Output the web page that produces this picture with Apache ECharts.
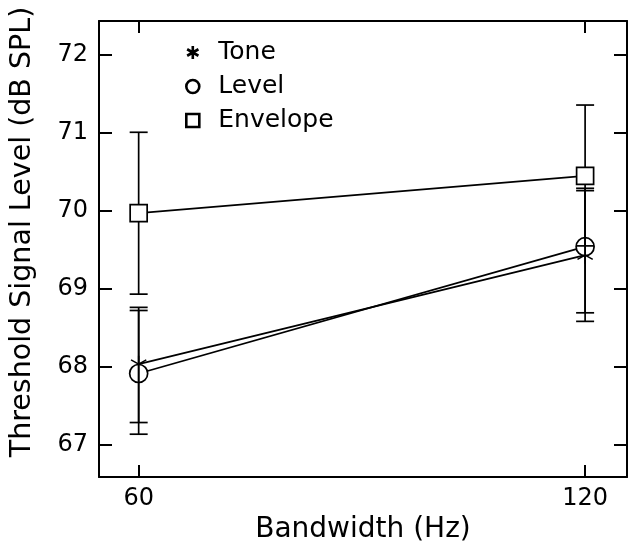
<!DOCTYPE html>
<html>
<head>
<meta charset="utf-8">
<script src="https://cdn.jsdelivr.net/npm/echarts@6/dist/echarts.min.js"></script>
<style>
html,body{margin:0;padding:0;background:#fff;}
#chart{width:628px;height:550px;}
</style>
</head>
<body>
<div id="chart"></div>
<script>
// ---- data ----
const bandwidths = [60, 120];
const toneMean  = [68.03, 69.43];
const toneLow   = [67.28, 68.69];
const toneHigh  = [68.76, 70.26];
const levelMean = [67.91, 69.54];
const levelLow  = [67.13, 68.58];
const levelHigh = [68.72, 70.29];
const envMean   = [69.97, 70.45];
const envLow    = [68.93, 69.55];
const envHigh   = [71.01, 71.36];
const xTicks = [60, 120];
const yTicks = [67, 68, 69, 70, 71, 72];
const seriesNames = ['Tone', 'Level', 'Envelope'];

// ---- styling helpers ----
const FONT = 'DejaVu Sans';
function starPath(L, w) {
  let d = '';
  [90, 30, -30].forEach(function (a) {
    const r = a * Math.PI / 180;
    const dx = Math.cos(r), dy = Math.sin(r);
    const nx = -dy, ny = dx;
    const p = [
      [L * dx + w * nx, L * dy + w * ny],
      [L * dx - w * nx, L * dy - w * ny],
      [-L * dx - w * nx, -L * dy - w * ny],
      [-L * dx + w * nx, -L * dy + w * ny]
    ];
    d += 'M' + p.map(function (q) { return q[0].toFixed(3) + ',' + q[1].toFixed(3); }).join(' L') + ' Z ';
  });
  return 'path://' + d;
}
const STAR_THIN = starPath(10, 0.85);
const STAR_BOLD = starPath(10, 2.0);

function pairs(xs, ys) { return xs.map(function (x, i) { return [x, ys[i]]; }); }
function bars(xs, lo, hi) { return xs.map(function (x, i) { return [x, lo[i], hi[i]]; }); }

function errorBarSeries(name, data, z) {
  return {
    type: 'custom',
    name: name + ' err',
    z: z,
    clip: false,
    silent: true,
    data: data,
    encode: { x: 0, y: [1, 2] },
    renderItem: function (params, api) {
      const x = api.value(0);
      const pLo = api.coord([x, api.value(1)]);
      const pHi = api.coord([x, api.value(2)]);
      const hw = 9;
      const st = { stroke: '#000', lineWidth: 1.7, fill: null };
      return {
        type: 'group',
        children: [
          { type: 'line', shape: { x1: pLo[0], y1: pLo[1], x2: pHi[0], y2: pHi[1] }, style: st },
          { type: 'line', shape: { x1: pLo[0] - hw, y1: pLo[1], x2: pLo[0] + hw, y2: pLo[1] }, style: st },
          { type: 'line', shape: { x1: pHi[0] - hw, y1: pHi[1], x2: pHi[0] + hw, y2: pHi[1] }, style: st }
        ]
      };
    }
  };
}

const axisLineStyle = { show: true, lineStyle: { color: '#000', width: 2 } };
const tickStyle = { color: '#000', width: 2 };
const xMin = 54.67, xMax = 125.63, yMin = 66.58, yMax = 72.44;

const chart = echarts.init(document.getElementById('chart'), null, { renderer: 'canvas' });
chart.setOption({
  animation: false,
  backgroundColor: '#fff',
  textStyle: { fontFamily: FONT, color: '#000' },
  grid: { left: 98, right: 1, top: 21, bottom: 73, containLabel: false },
  legend: {
    orient: 'vertical',
    left: 180,
    top: 35,
    itemGap: 9,
    itemWidth: 13,
    itemHeight: 13,
    selectedMode: false,
    textStyle: { fontFamily: FONT, fontSize: 25, color: '#000', padding: [0, 0, 0, 14] },
    data: [
      { name: 'Tone', icon: STAR_BOLD, itemStyle: { color: '#000', borderWidth: 0 } },
      { name: 'Level', icon: 'circle', itemStyle: { color: '#fff', borderColor: '#000', borderWidth: 2.6 } },
      { name: 'Envelope', icon: 'rect', itemStyle: { color: '#fff', borderColor: '#000', borderWidth: 2.6 } }
    ]
  },
  xAxis: [
    {
      type: 'value', position: 'bottom', min: xMin, max: xMax,
      name: 'Bandwidth (Hz)', nameLocation: 'middle', nameGap: 36,
      nameTextStyle: { fontFamily: FONT, fontSize: 28, color: '#000' },
      axisLine: axisLineStyle,
      axisTick: { show: true, inside: true, length: 12, customValues: xTicks, lineStyle: tickStyle },
      axisLabel: { show: true, customValues: xTicks, margin: 10, fontFamily: FONT, fontSize: 24, color: '#000' },
      splitLine: { show: false }
    },
    {
      type: 'value', position: 'top', min: xMin, max: xMax,
      axisLine: axisLineStyle,
      axisTick: { show: true, inside: true, length: 12, customValues: xTicks, lineStyle: tickStyle },
      axisLabel: { show: false },
      splitLine: { show: false }
    }
  ],
  yAxis: [
    {
      type: 'value', position: 'left', min: yMin, max: yMax,
      name: 'Threshold Signal Level (dB SPL)', nameLocation: 'middle', nameGap: 62,
      nameTextStyle: { fontFamily: FONT, fontSize: 28.5, color: '#000', padding: [0, 0, 0, 34] },
      axisLine: axisLineStyle,
      axisTick: { show: true, inside: true, length: 13, customValues: yTicks, lineStyle: tickStyle },
      axisLabel: { show: true, customValues: yTicks, margin: 11, fontFamily: FONT, fontSize: 24, color: '#000' },
      splitLine: { show: false }
    },
    {
      type: 'value', position: 'right', min: yMin, max: yMax,
      axisLine: axisLineStyle,
      axisTick: { show: true, inside: true, length: 13, customValues: yTicks, lineStyle: tickStyle },
      axisLabel: { show: false },
      splitLine: { show: false }
    }
  ],
  series: [
    {
      type: 'line', name: 'Tone', z: 2,
      data: pairs(bandwidths, toneMean),
      symbol: STAR_THIN, symbolSize: [16, 17],
      lineStyle: { color: '#000', width: 1.8 },
      itemStyle: { color: '#000', borderWidth: 0 }
    },
    {
      type: 'line', name: 'Level', z: 2,
      data: pairs(bandwidths, levelMean),
      symbol: 'circle', symbolSize: 18,
      lineStyle: { color: '#000', width: 1.8 },
      itemStyle: { color: '#fff', borderColor: '#000', borderWidth: 1.7 }
    },
    errorBarSeries('Tone', bars(bandwidths, toneLow, toneHigh), 3),
    errorBarSeries('Level', bars(bandwidths, levelLow, levelHigh), 3),
    errorBarSeries('Envelope', bars(bandwidths, envLow, envHigh), 3),
    {
      type: 'line', name: 'Envelope', z: 4,
      data: pairs(bandwidths, envMean),
      symbol: 'rect', symbolSize: 17,
      lineStyle: { color: '#000', width: 1.8 },
      itemStyle: { color: '#fff', borderColor: '#000', borderWidth: 1.7 }
    }
  ]
});
</script>
</body>
</html>
